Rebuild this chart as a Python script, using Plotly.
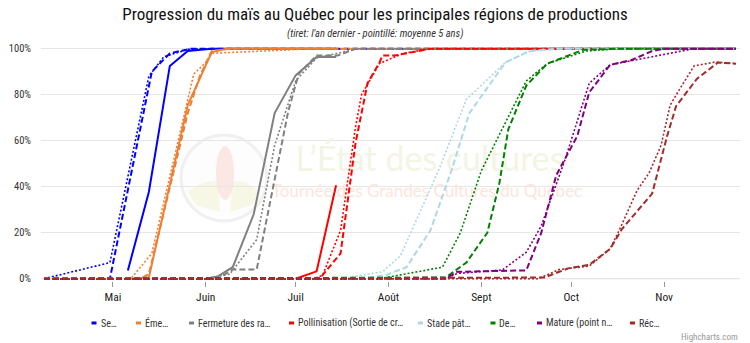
import pandas as pd
import plotly.graph_objects as go

# ---------------------------------------------------------------------------
# Données : % de superficie atteignant chaque stade (cumulatif)
# ---------------------------------------------------------------------------
stage_names = ["Se…", "Éme…", "Fermeture des ra…", "Pollinisation (Sortie de cr…",
               "Stade pât…", "De…", "Mature (point n…", "Réc…"]
stage_colors = ["#0000ff", "#ef7f32", "#808080", "#ff0000",
                "#add8e6", "#008000", "#800080", "#a52a2a"]

# Semis
semis_annee_dates = ["2023-05-06", "2023-05-13", "2023-05-20", "2023-05-26", "2023-06-03", "2023-07-14 12:00"]
semis_annee = [3.6, 37.7, 92.5, 99, 100, 100]
semis_dernier_dates = ["2023-04-08", "2023-04-30", "2023-05-14", "2023-05-20", "2023-05-27", "2023-11-25"]
semis_dernier = [0, 0, 90, 98, 100, 100]
semis_moy_dates = ["2023-04-08", "2023-04-30", "2023-05-13", "2023-05-18", "2023-05-26", "2023-06-03", "2023-11-25"]
semis_moy = [0, 7, 88, 96.5, 99.7, 100, 100]

# Émergence
emergence_annee_dates = ["2023-05-07", "2023-05-13", "2023-05-26", "2023-06-03", "2023-06-08", "2023-07-14 12:00"]
emergence_annee = [0, 0.5, 75.5, 98.5, 100, 100]
emergence_dernier_dates = ["2023-04-08", "2023-05-10", "2023-05-13", "2023-05-26", "2023-05-30", "2023-06-03", "2023-06-09", "2023-11-25"]
emergence_dernier = [0, 0, 2, 72, 88, 99, 100, 100]
emergence_moy_dates = ["2023-04-08", "2023-05-07", "2023-05-14", "2023-05-28", "2023-06-01", "2023-06-03", "2023-06-29", "2023-07-05", "2023-11-25"]
emergence_moy = [0, 0, 11, 89, 94, 98, 99.5, 100, 100]

# Fermeture des rangs
fermeture_annee_dates = ["2023-06-01", "2023-06-05", "2023-06-10", "2023-06-17", "2023-06-24", "2023-07-01", "2023-07-08", "2023-07-14 12:00"]
fermeture_annee = [0, 1, 5, 28, 72, 88.4, 96.4, 96.4]
fermeture_dernier_dates = ["2023-04-08", "2023-06-05", "2023-06-10", "2023-06-18", "2023-06-28 12:00", "2023-07-02", "2023-07-08", "2023-07-15", "2023-07-21", "2023-11-25"]
fermeture_dernier = [0, 0, 4, 4, 72.6, 89, 97, 97, 100, 100]
fermeture_moy_dates = ["2023-04-08", "2023-06-01", "2023-06-09", "2023-06-18", "2023-06-24", "2023-07-01", "2023-07-08", "2023-07-22", "2023-11-25"]
fermeture_moy = [0, 0, 2, 17, 58, 86, 96, 100, 100]

# Pollinisation
pollinisation_annee_dates = ["2023-07-01", "2023-07-08", "2023-07-14 12:00"]
pollinisation_annee = [0, 3.2, 40.6]
pollinisation_dernier_dates = ["2023-04-08", "2023-07-09", "2023-07-16", "2023-07-21", "2023-07-25", "2023-07-29", "2023-07-30", "2023-08-03", "2023-08-15", "2023-11-25"]
pollinisation_dernier = [0, 0, 11, 59, 85, 94, 97, 97, 100, 100]
pollinisation_moy_dates = ["2023-04-08", "2023-07-07", "2023-07-10", "2023-07-16", "2023-07-21", "2023-07-23", "2023-07-29", "2023-08-06", "2023-08-15", "2023-11-25"]
pollinisation_moy = [0, 0, 1.5, 21, 66, 80, 93.6, 98, 100, 100]

# Stade pâteux
pateux_dernier_dates = ["2023-04-08", "2023-07-23", "2023-07-31", "2023-08-07", "2023-08-15", "2023-08-22", "2023-08-28", "2023-09-09", "2023-09-17", "2023-09-27", "2023-11-25"]
pateux_dernier = [0, 0, 1.5, 5, 21, 47, 72, 94, 99, 100, 100]
pateux_moy_dates = ["2023-04-08", "2023-07-16", "2023-07-30", "2023-08-05", "2023-08-18", "2023-08-27", "2023-09-09", "2023-09-17", "2023-09-27", "2023-11-25"]
pateux_moy = [0, 0, 3, 10, 48, 78, 94, 98.8, 100, 100]

# Denture
denture_dernier_dates = ["2023-04-08", "2023-08-20", "2023-08-27", "2023-09-03", "2023-09-07", "2023-09-10", "2023-09-16", "2023-09-23", "2023-10-05", "2023-10-17", "2023-11-25"]
denture_dernier = [0, 0.5, 7, 20, 41.5, 65, 84, 93.5, 99.5, 100, 100]
denture_moy_dates = ["2023-04-08", "2023-07-29", "2023-08-19", "2023-08-25", "2023-09-01", "2023-09-16", "2023-09-23", "2023-10-06", "2023-10-17", "2023-11-25"]
denture_moy = [0, 0, 5, 20, 47, 86, 93.5, 99, 100, 100]

# Maturité
maturite_dernier_dates = ["2023-04-08", "2023-08-20", "2023-08-24", "2023-09-16", "2023-09-21", "2023-09-26", "2023-10-03", "2023-10-07", "2023-10-14", "2023-10-21", "2023-10-28", "2023-11-01", "2023-11-25"]
maturite_dernier = [0, 0, 3, 3.6, 20, 45, 62, 81, 93, 95, 99, 100, 100]
maturite_moy_dates = ["2023-04-08", "2023-08-20", "2023-08-24", "2023-09-08", "2023-09-16", "2023-09-21", "2023-09-29", "2023-10-04", "2023-10-07", "2023-10-14", "2023-11-11", "2023-11-25"]
maturite_moy = [0, 0, 2.3, 3.8, 11.5, 23, 52, 72.5, 85, 93, 100, 100]

# Récolte
recolte_dernier_dates = ["2023-04-08", "2023-09-22", "2023-09-27", "2023-09-30", "2023-10-07", "2023-10-14", "2023-10-18", "2023-10-28", "2023-11-02", "2023-11-05", "2023-11-12", "2023-11-19", "2023-11-25"]
recolte_dernier = [0, 0.5, 3, 4.5, 6, 13, 21.7, 37, 62, 75, 87, 94, 93.5]
recolte_moy_dates = ["2023-04-08", "2023-09-20", "2023-09-27", "2023-09-30", "2023-10-07", "2023-10-14", "2023-10-17", "2023-10-23", "2023-10-27", "2023-10-31", "2023-11-03", "2023-11-06", "2023-11-11", "2023-11-18", "2023-11-25"]
recolte_moy = [0, 0, 4, 4.5, 5.5, 13, 21, 38.4, 46, 58, 75.4, 82, 92.5, 94.2, 93.5]

month_ticks = ["2023-05-01", "2023-06-01", "2023-07-01", "2023-08-01", "2023-09-01", "2023-10-01", "2023-11-01"]
month_labels = ["Mai", "Juin", "Juil", "Août", "Sept", "Oct", "Nov"]
pct_ticks = [0, 20, 40, 60, 80, 100]
pct_labels = ["0%", "20%", "40%", "60%", "80%", "100%"]

# (année en cours, an dernier, moyenne 5 ans) pour chaque stade
series = [
    ((semis_annee_dates, semis_annee), (semis_dernier_dates, semis_dernier), (semis_moy_dates, semis_moy)),
    ((emergence_annee_dates, emergence_annee), (emergence_dernier_dates, emergence_dernier), (emergence_moy_dates, emergence_moy)),
    ((fermeture_annee_dates, fermeture_annee), (fermeture_dernier_dates, fermeture_dernier), (fermeture_moy_dates, fermeture_moy)),
    ((pollinisation_annee_dates, pollinisation_annee), (pollinisation_dernier_dates, pollinisation_dernier), (pollinisation_moy_dates, pollinisation_moy)),
    (([], []), (pateux_dernier_dates, pateux_dernier), (pateux_moy_dates, pateux_moy)),
    (([], []), (denture_dernier_dates, denture_dernier), (denture_moy_dates, denture_moy)),
    (([], []), (maturite_dernier_dates, maturite_dernier), (maturite_moy_dates, maturite_moy)),
    (([], []), (recolte_dernier_dates, recolte_dernier), (recolte_moy_dates, recolte_moy)),
]

# ---------------------------------------------------------------------------
# Mise en page
# ---------------------------------------------------------------------------
W, H = 750, 343
ML, MR, MT, MB = 41, 10, 47, 62
PW, PH = W - ML - MR, H - MT - MB
X_START = pd.Timestamp("2023-04-07")
X_END = pd.Timestamp("2023-11-26 08:00")
Y_RANGE = [-1.0, 100.74]

NARROW = "Liberation Sans Narrow, Arial Narrow, Roboto Condensed, Roboto, sans-serif"


def px_x(px):
    return (px - ML) / PW


def px_y(py):
    return (H - MB - py) / PH


fig = go.Figure()

# Filigrane (sous les courbes)
wm_x = [X_START + f * (X_END - X_START) for f in (px_x(430), px_x(427))]
wm_y = [Y_RANGE[0] + f * (Y_RANGE[1] - Y_RANGE[0]) for f in (px_y(162), px_y(193))]
fig.add_trace(go.Scatter(
    x=wm_x[:1], y=wm_y[:1], mode="text", text=["L’État des cultures"],
    textfont=dict(family="Lato, sans-serif", size=34, color="#f4f4e4"),
    hoverinfo="skip", showlegend=False))
fig.add_trace(go.Scatter(
    x=wm_x[1:], y=wm_y[1:], mode="text", text=["Tournée des Grandes Cultures du Québec"],
    textfont=dict(family="Lato, sans-serif", size=17, color="#fde5dc"),
    hoverinfo="skip", showlegend=False))

for (annee, dernier, moy), color, name in zip(series, stage_colors, stage_names):
    fig.add_trace(go.Scatter(x=moy[0], y=moy[1], mode="lines", showlegend=False,
                             line=dict(color=color, width=1.6, dash="2px,2px")))
    fig.add_trace(go.Scatter(x=dernier[0], y=dernier[1], mode="lines", showlegend=False,
                             line=dict(color=color, width=2, dash="6px,3px")))
    fig.add_trace(go.Scatter(x=annee[0], y=annee[1], mode="lines", name=name, showlegend=False,
                             line=dict(color=color, width=2)))

shapes = []
# Logo du filigrane
shapes.append(dict(type="circle", xref="paper", yref="paper", layer="below",
                   x0=px_x(181), x1=px_x(267), y0=px_y(221), y1=px_y(135),
                   line=dict(color="#f0f0f0", width=3), fillcolor="rgba(253,253,253,1)"))
shapes.append(dict(type="circle", xref="paper", yref="paper", layer="below",
                   x0=px_x(216), x1=px_x(234), y0=px_y(200), y1=px_y(146),
                   line=dict(width=0), fillcolor="rgba(245,140,120,0.18)"))
shapes.append(dict(type="path", xref="paper", yref="paper", layer="below",
                   path=f"M {px_x(188)},{px_y(192)} Q {px_x(205)},{px_y(178)} {px_x(218)},{px_y(182)} "
                        f"L {px_x(220)},{px_y(212)} L {px_x(196)},{px_y(205)} Z",
                   line=dict(width=0), fillcolor="rgba(225,225,140,0.2)"))
shapes.append(dict(type="path", xref="paper", yref="paper", layer="below",
                   path=f"M {px_x(260)},{px_y(192)} Q {px_x(243)},{px_y(178)} {px_x(232)},{px_y(182)} "
                        f"L {px_x(230)},{px_y(212)} L {px_x(252)},{px_y(205)} Z",
                   line=dict(width=0), fillcolor="rgba(225,225,140,0.2)"))
# Axe horizontal au niveau 0 %
shapes.append(dict(type="line", xref="paper", yref="y", x0=0, x1=1, y0=0, y1=0,
                   layer="below", line=dict(color="#ccd6eb", width=1)))

annotations = []
# Légende
legend_text_x = [98.5, 143, 196, 296, 425, 497.5, 544, 637]
for name, color, tx in zip(stage_names, stage_colors, legend_text_x):
    shapes.append(dict(type="rect", xref="paper", yref="paper",
                       x0=px_x(tx - 7), x1=px_x(tx - 2), y0=px_y(324.5), y1=px_y(321.5),
                       line=dict(width=0), fillcolor=color))
    annotations.append(dict(xref="paper", yref="paper", x=px_x(tx), y=px_y(323),
                            xanchor="left", yanchor="middle", showarrow=False, text=name,
                            font=dict(family=NARROW, size=10, color="#333333")))

annotations.append(dict(xref="paper", yref="paper", x=px_x(375), y=px_y(34),
                        xanchor="center", yanchor="middle", showarrow=False,
                        text="<i>(tiret: l'an dernier - pointillé: moyenne 5 ans)</i>",
                        font=dict(family=NARROW, size=10.5, color="#333333")))
annotations.append(dict(xref="paper", yref="paper", x=px_x(740), y=px_y(337),
                        xanchor="right", yanchor="middle", showarrow=False,
                        text="Highcharts.com",
                        font=dict(family=NARROW, size=9, color="#999999")))

fig.update_layout(
    width=W, height=H,
    margin=dict(l=ML, r=MR, t=MT, b=MB, pad=0),
    paper_bgcolor="white", plot_bgcolor="white",
    showlegend=False,
    title=dict(text="Progression du maïs au Québec pour les principales régions de productions",
               x=0.5, xref="container", xanchor="center",
               y=1 - 14 / H, yref="container", yanchor="middle",
               font=dict(family=NARROW, size=17, color="#111111")),
    xaxis=dict(type="date", range=[X_START, X_END], tickvals=month_ticks, ticktext=month_labels,
               showgrid=False, zeroline=False, showline=False,
               ticks="outside", ticklen=5, tickcolor="#999999", tickwidth=1,
               tickfont=dict(family=NARROW, size=11.5, color="#222222")),
    yaxis=dict(range=Y_RANGE, tickvals=pct_ticks, ticktext=pct_labels,
               showgrid=True, gridcolor="#e6e6e6", gridwidth=1, zeroline=False, showline=False,
               ticks="", ticklabelstandoff=9,
               tickfont=dict(family=NARROW, size=10.5, color="#333333")),
    shapes=shapes, annotations=annotations,
    hovermode=False,
)

fig.write_html("out.html")
